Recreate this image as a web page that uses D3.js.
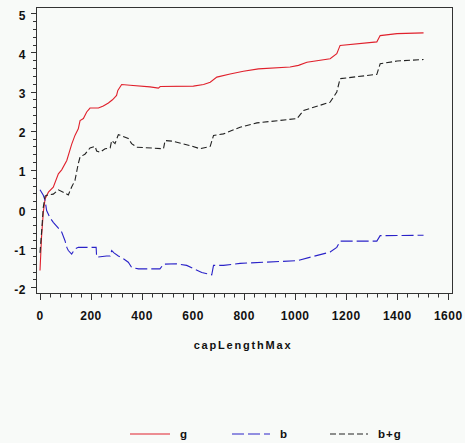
<!DOCTYPE html>
<html>
<head>
<meta charset="UTF-8" />
<script src="https://d3js.org/d3.v7.min.js"></script>
<style>
  body { margin: 0; background: #f8faf8; }
  svg { display: block; background: #f8faf8; }
  text { font-family: "Liberation Sans", Arial, sans-serif; font-weight: bold; fill: #111; }
  .tick-label { font-size: 12px; letter-spacing: 0.5px; }
  .axis-title { font-size: 11px; letter-spacing: 1.8px; }
  .legend-label { font-size: 11.5px; letter-spacing: 1px; }
  .frame, .tick { stroke: #333; stroke-width: 1; fill: none; }
  .series { fill: none; stroke-width: 1.1; }
</style>
</head>
<body>
<svg width="465" height="443"></svg>
<script>
// values
const gX  = [0, 6, 13, 20, 33, 52, 72, 85, 105, 124, 137, 150, 157, 170, 183, 196, 229, 248, 268, 284, 294, 300, 305, 320, 353, 431, 464, 471, 601, 641, 667, 693, 745, 797, 856, 980, 1013, 1046, 1137, 1163, 1176, 1320, 1333, 1399, 1503];
const gY  = [-1.57, -0.72, -0.08, 0.26, 0.43, 0.56, 0.9, 1.0, 1.24, 1.65, 1.88, 2.05, 2.26, 2.31, 2.48, 2.58, 2.58, 2.63, 2.71, 2.79, 2.86, 2.9, 3.03, 3.18, 3.16, 3.12, 3.09, 3.13, 3.14, 3.18, 3.24, 3.37, 3.45, 3.52, 3.58, 3.63, 3.67, 3.75, 3.84, 3.97, 4.18, 4.27, 4.43, 4.48, 4.5];

const bX  = [0, 13, 20, 26, 39, 52, 72, 85, 98, 105, 111, 124, 137, 150, 196, 220, 222, 261, 275, 281, 290, 307, 327, 346, 359, 386, 470, 484, 536, 575, 634, 660, 673, 680, 719, 784, 876, 1007, 1137, 1163, 1176, 1320, 1333, 1503];
const bY  = [0.49, 0.35, 0.22, -0.04, -0.22, -0.34, -0.49, -0.59, -0.81, -0.98, -1.06, -1.15, -1.02, -0.98, -0.98, -0.98, -1.23, -1.2, -1.2, -1.06, -1.12, -1.2, -1.27, -1.36, -1.49, -1.53, -1.53, -1.41, -1.4, -1.44, -1.62, -1.66, -1.68, -1.44, -1.44, -1.39, -1.36, -1.32, -1.1, -0.98, -0.82, -0.82, -0.68, -0.67];

const bgX = [0, 7, 13, 20, 26, 52, 72, 91, 111, 124, 137, 150, 157, 176, 196, 216, 222, 235, 255, 275, 281, 294, 307, 320, 346, 359, 379, 484, 490, 523, 588, 627, 667, 680, 719, 784, 837, 850, 1007, 1033, 1137, 1163, 1176, 1320, 1333, 1399, 1503];
const bgY = [-1.12, -0.52, 0.05, 0.33, 0.35, 0.38, 0.49, 0.43, 0.36, 0.56, 0.73, 1.16, 1.33, 1.4, 1.56, 1.6, 1.48, 1.45, 1.54, 1.56, 1.75, 1.67, 1.9, 1.87, 1.8, 1.67, 1.58, 1.54, 1.75, 1.73, 1.62, 1.54, 1.6, 1.88, 1.92, 2.09, 2.18, 2.2, 2.31, 2.52, 2.73, 2.99, 3.33, 3.44, 3.71, 3.78, 3.82];

const seriesNames = ["g", "b", "b+g"];
const xTicks = [0, 200, 400, 600, 800, 1000, 1200, 1400, 1600];
const yTicks = [-2, -1, 0, 1, 2, 3, 4, 5];
const xTitle = "capLengthMax";

const svg = d3.select("svg");
const x = d3.scaleLinear().domain([0, 1600]).range([40, 448.3]);
const y = d3.scaleLinear().domain([-2, 5]).range([287.3, 13.3]);

// frame
svg.append("rect").attr("class", "frame")
  .attr("x", 36.5).attr("y", 7.5).attr("width", 416).attr("height", 286);

// x ticks (major + 4 minor)
const xMinor = d3.range(0, 1601, 40).filter(v => v % 200 !== 0);
svg.append("g").selectAll("line.maj").data(xTicks).join("line").attr("class", "tick")
  .attr("x1", d => Math.round(x(d)) + 0.5).attr("x2", d => Math.round(x(d)) + 0.5)
  .attr("y1", 293.5).attr("y2", 300);
svg.append("g").selectAll("line.min").data(xMinor).join("line").attr("class", "tick")
  .attr("x1", d => Math.round(x(d)) + 0.5).attr("x2", d => Math.round(x(d)) + 0.5)
  .attr("y1", 293.5).attr("y2", 297.5);
svg.append("g").selectAll("text").data(xTicks).join("text").attr("class", "tick-label")
  .attr("x", d => x(d)).attr("y", 320).attr("text-anchor", "middle")
  .text(d => d);

// y ticks (major + 4 minor)
const yMinor = d3.range(-20, 51, 2).filter(v => v % 10 !== 0).map(v => v / 10);
svg.append("g").selectAll("line").data(yTicks).join("line").attr("class", "tick")
  .attr("x1", 31).attr("x2", 36.5)
  .attr("y1", d => Math.round(y(d)) + 0.5).attr("y2", d => Math.round(y(d)) + 0.5);
svg.append("g").selectAll("line").data(yMinor).join("line").attr("class", "tick")
  .attr("x1", 33).attr("x2", 36.5)
  .attr("y1", d => Math.round(y(d)) + 0.5).attr("y2", d => Math.round(y(d)) + 0.5);
svg.append("g").selectAll("text").data(yTicks).join("text").attr("class", "tick-label")
  .attr("x", 26).attr("y", d => y(d) + 6.5).attr("text-anchor", "end")
  .text(d => d);

svg.append("text").attr("class", "axis-title")
  .attr("x", 243).attr("y", 349).attr("text-anchor", "middle").text(xTitle);

// series
const series = [
  { name: seriesNames[0], xs: gX,  ys: gY,  color: "#e0202c", dash: null },
  { name: seriesNames[1], xs: bX,  ys: bY,  color: "#2a22c8", dash: "12,4" },
  { name: seriesNames[2], xs: bgX, ys: bgY, color: "#222222", dash: "6,3" }
];
const line = d3.line().x(d => x(d[0])).y(d => y(d[1]));
svg.append("g").selectAll("path").data(series).join("path")
  .attr("class", "series")
  .attr("stroke", d => d.color)
  .attr("stroke-dasharray", d => d.dash)
  .attr("d", d => line(d.xs.map((v, i) => [v, d.ys[i]])));

// legend
const legendX = [130, 232, 330];
const leg = svg.append("g").selectAll("g").data(series).join("g")
  .attr("transform", (d, i) => `translate(${legendX[i]},434)`);
leg.append("line").attr("x1", 0).attr("x2", (d, i) => i === 0 ? 40 : 38)
  .attr("y1", 0).attr("y2", 0)
  .attr("stroke", d => d.color).attr("stroke-width", 1.1)
  .attr("stroke-dasharray", d => d.dash);
leg.append("text").attr("class", "legend-label")
  .attr("x", (d, i) => i === 0 ? 50 : 48).attr("y", 4).text(d => d.name);
</script>
</body>
</html>
